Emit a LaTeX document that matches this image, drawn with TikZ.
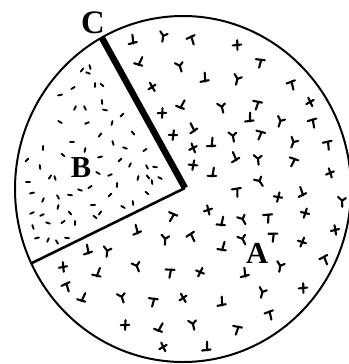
\documentclass[tikz,border=0pt]{standalone}
\usepackage{fontspec}
\setmainfont{Liberation Serif}
\begin{document}
\begin{tikzpicture}[x=0.03cm,y=-0.03cm,
  rim/.style={line width=1.7pt},
  edge/.style={line width=2.2pt},
  thickedge/.style={line width=5.5pt},
  amark/.style={line width=1.8pt,line cap=round},
  bmark/.style={line width=1.6pt,line cap=round},
  lbl/.style={font=\bfseries\fontsize{26}{26}\selectfont,inner sep=0pt}]
\useasboundingbox (0,0) rectangle (349,364);
\coordinate (O) at (185,188);
\coordinate (Ctop) at (102,38);
\coordinate (Bend) at (32,263);
\draw[rim] (183,189) ellipse [x radius=168, y radius=173];
\draw[edge] (O) -- (Bend);
\draw[thickedge] (O) -- (Ctop);
% marks in region A
\foreach \x/\y [count=\i] in {133/40,163/37,192/40,237/45,140/62,180/67,260/63,152/87,205/78,237/80,292/85,
162/113,182/105,222/108,257/105,310/102,250/118,280/122,313/123,173/135,193/128,233/137,260/135,
193/148,212/143,293/143,328/145,193/165,235/157,258/160,293/162,330/173,213/173,260/182,
237/192,278/197,302/192,342/202,172/217,208/210,222/222,243/220,268/218,305/213,
137/230,165/240,192/237,335/230,223/247,243/240,273/237,302/242,88/250,107/252,325/260,
63/267,98/273,137/267,170/273,200/272,245/273,280/267,67/287,303/288,
83/298,122/298,153/302,183/298,222/302,262/293,270/315,125/325,160/328,193/325,237/330,163/347,207/347}{
  \pgfmathtruncatemacro\v{mod(\i,4)}
  \pgfmathsetmacro\r{mod(\i*37,60)-30}
  \begin{scope}[shift={(\x,\y)},rotate=\r,scale=1.2]
  \ifcase\v
    \draw[amark] (-3.5,0.5) -- (3.5,-0.5) (0,-4) -- (0.5,4);
  \or
    \draw[amark] (0,-4.5) -- (0,3) (-4,3) -- (3,2);
  \or
    \draw[amark] (-3.5,-4) -- (0,-1) -- (3,-3.5) (0,-1) -- (0.5,4);
  \or
    \draw[amark] (-4,-2.5) -- (3.5,-3) (0.5,-3) -- (0,4);
  \fi
  \end{scope}
}
% marks in region B
\foreach \x/\y [count=\i] in {82/70,90/67,88/73,73/88,95/85,102/85,60/95,75/108,85/108,105/110,122/115,102/102,
60/122,87/123,112/123,133/133,72/142,100/135,113/143,125/148,145/150,43/148,63/155,100/157,130/165,147/167,155/167,
27/160,40/167,98/173,110/175,138/178,148/177,28/182,50/177,55/178,80/190,90/187,117/185,147/193,
32/193,43/200,58/197,70/195,110/195,133/203,123/207,32/213,58/207,70/213,93/205,100/213,
33/227,48/223,63/222,75/223,95/217,37/238,48/240,57/242,67/238,120/160,152/182,160/178,42/215,85/150}{
  \pgfmathsetmacro\r{mod(\i*53,180)}
  \draw[bmark,rotate around={\r:(\x,\y)}] (\x-2,\y) -- (\x+2,\y);
}
\node[lbl,font=\bfseries\fontsize{28}{28}\selectfont] (C) at (93,23) {C};
\node[lbl] (B) at (81,168) {B};
\node[lbl] (A) at (257,253) {A};
\end{tikzpicture}
\end{document}
